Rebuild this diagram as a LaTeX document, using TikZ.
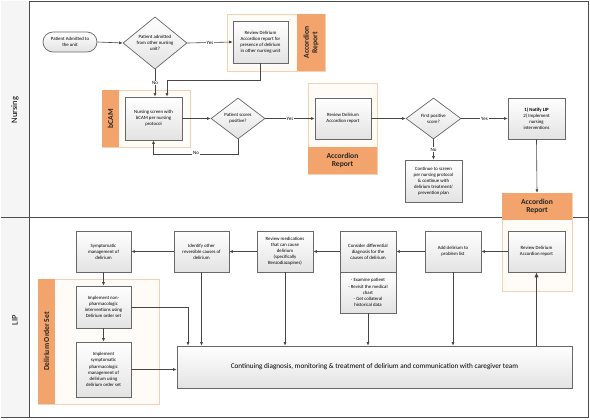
\documentclass[tikz,border=0pt]{standalone}
\usepackage{fontspec}
\setmainfont{Carlito}
\usetikzlibrary{arrows.meta,shapes.geometric}
\definecolor{accorange}{RGB}{242,164,108}
\definecolor{accline}{RGB}{246,208,176}
\definecolor{accfill}{RGB}{255,251,246}
\definecolor{boxline}{RGB}{104,104,104}
\definecolor{flowline}{RGB}{70,70,70}
\tikzset{
 procbox/.style={rectangle,draw=boxline,line width=0.7pt,top color=white,bottom color=gray!22,align=center,inner sep=1pt,font=\fontsize{4.8}{6.1}\selectfont},
 decbox/.style={diamond,draw=boxline,line width=0.7pt,top color=white,bottom color=gray!22,align=center,inner sep=0pt,font=\fontsize{4.8}{6.1}\selectfont},
 flow/.style={draw=flowline,line width=0.6pt,-{Latex[length=3.5pt,width=3pt]}},
 answer/.style={fill=white,inner sep=0.8pt,font=\fontsize{5}{6}\selectfont},
 tabnode/.style={fill=accorange,inner sep=0pt,align=center,font=\fontsize{7.6}{8.6}\selectfont\bfseries,text=black!85},
 frameset/.style={draw=accline,fill=accfill,line width=0.6pt},
 lanetext/.style={font=\fontsize{8.5}{9}\selectfont,rotate=90},
}
\begin{document}
\begin{tikzpicture}[x=1pt,y=-1pt]
\pgfmathsetmacro{\bw}{56}
\pgfmathsetmacro{\bh}{41}
\useasboundingbox (0,0) rectangle (590,420);
\draw[gray!60!black,line width=0.8pt,fill=white] (1,1) rectangle (588,417);
\fill[gray!8] (1,1) rectangle (29,417);
\draw[gray!60!black,line width=0.8pt] (29,1)--(29,417) (1,217)--(588,217);
\node[lanetext] (nursing) at (15,110) {Nursing};
\node[lanetext] (lip) at (15,320) {LIP};
\draw[frameset] (227,14) rectangle (325,71);
\draw[frameset] (102,90) rectangle (190,147);
\draw[frameset] (308,83) rectangle (377,174);
\draw[frameset] (502,193) rectangle (572,291);
\draw[frameset] (38,279) rectangle (159,404);
\node[tabnode,rotate=90,minimum width=57pt,minimum height=28pt] (tabA) at (311,42.5) {Accordion\\Report};
\node[tabnode,rotate=90,minimum width=57pt,minimum height=17pt] (tabB) at (110.5,118.5) {bCAM};
\node[tabnode,minimum width=69pt,minimum height=27pt] (tabC) at (342.5,160.5) {Accordion\\Report};
\node[tabnode,minimum width=70pt,minimum height=27pt] (tabD) at (537,206.5) {Accordion\\Report};
\node[tabnode,rotate=90,minimum width=125pt,minimum height=17pt] (tabE) at (46.5,341.5) {Delirium Order Set};
\node[procbox,rounded corners=10pt,minimum width=54pt,minimum height=20pt] (start) at (70,42) {Patient Admitted to\\the unit};
\node[decbox,minimum width=64pt,minimum height=50pt] (dia1) at (155,43) {Patient admitted\\from other nursing\\unit?};
\node[procbox,minimum width=55pt,minimum height=42pt] (rev1) at (260.5,42) {Review Delirium\\Accordion report for\\presence of delirium\\in other nursing unit};
\node[procbox,minimum width=57pt,minimum height=43pt] (screen) at (153.5,118.5) {Nursing screen with\\bCAM per nursing\\protocol};
\node[decbox,minimum width=54pt,minimum height=41pt] (dia2) at (238,118.5) {Patient scores\\positive?};
\node[procbox,minimum width=\bw pt,minimum height=\bh pt] (rev2) at (343,118.5) {Review Delirium\\Accordion report};
\node[decbox,minimum width=55pt,minimum height=41pt] (dia3) at (433.5,118.5) {First positive\\score?};
\node[procbox,minimum width=57pt,minimum height=\bh pt] (notify) at (536.5,118.5) {\textbf{1) Notify LIP}\\2) Implement\\nursing\\interventions};
\node[procbox,minimum width=57pt,minimum height=42pt] (cont) at (433.5,181) {Continue to screen\\per nursing protocol\\\& continue with\\delirium treatment/\\prevention plan};
\node[procbox,minimum width=57pt,minimum height=\bh pt] (rev3) at (536.5,251.5) {Review Delirium\\Accordion report};
\node[procbox,minimum width=\bw pt,minimum height=\bh pt] (add) at (453,251.5) {Add delirium to\\problem list};
\node[procbox,minimum width=\bw pt,minimum height=\bh pt] (diff) at (368,251.5) {Consider differential\\diagnosis for the\\causes of delirium};
\node[procbox,minimum width=\bw pt,minimum height=\bh pt] (diffnotes) at (368,292.5) {- Examine patient\\- Revisit the medical\\chart\\- Get collateral\\historical data};
\node[procbox,minimum width=\bw pt,minimum height=\bh pt] (meds) at (285,251.5) {Review medications\\that can cause\\delirium\\(specifically\\Benzodiazapines)};
\node[procbox,minimum width=55pt,minimum height=\bh pt] (ident) at (201.5,251.5) {Identify other\\reversible causes of\\delirium};
\node[procbox,minimum width=55pt,minimum height=\bh pt] (sympt) at (103.5,251.5) {Symptomatic\\management of\\delirium};
\node[procbox,minimum width=55pt,minimum height=42pt] (nonph) at (103.5,307) {Implement non-\\pharmacologic\\interventions using\\Delirium order set};
\node[procbox,minimum width=55pt,minimum height=55pt] (pharm) at (103.5,369.5) {Implement\\symptomatic\\pharmacologic\\management of\\delirium using\\delirium order set};
\node[procbox,minimum width=395pt,minimum height=42pt,font=\fontsize{7.2}{8}\selectfont] (big) at (374.5,367) {Continuing diagnosis, monitoring \& treatment of delirium and communication with caregiver team};
\coordinate (bendA) at (167,80);
\coordinate (bendB) at (188,0);
\draw[flow] (start.east) -- (dia1.west);
\draw[flow] (dia1.east) -- node[answer] (yes1) {Yes} (rev1.west);
\draw[flow] (dia1.south) -- node[answer] (no1) {No} (dia1.south |- screen.north);
\draw[flow] (rev1.south) |- (bendA) -- (bendA |- screen.north);
\draw[flow] (screen.east) -- (dia2.west);
\draw[flow] (dia2.south) -- ++(0,14.5) -| (screen.south);
\node[answer] (no2) at (196,153) {No};
\draw[flow] (dia2.east) -- node[answer] (yes2) {Yes} (rev2.west);
\draw[flow] (rev2.east) -- (dia3.west);
\draw[flow] (dia3.east) -- node[answer] (yes3) {Yes} (notify.west);
\draw[flow] (dia3.south) -- node[answer] (no3) {No} (cont.north);
\draw[flow] (notify.south) -- (tabD.north);
\draw[flow] (rev3.west) -- (add.east);
\draw[flow] (add.west) -- (diff.east);
\draw[flow] (diff.west) -- (meds.east);
\draw[flow] (meds.west) -- (ident.east);
\draw[flow] (ident.west) -- (sympt.east);
\draw[flow] (sympt.south) -- (nonph.north);
\draw[flow] (nonph.south) -- (pharm.north);
\foreach \src in {ident,meds,diffnotes,add}{\draw[flow] (\src.south) -- (\src.south |- big.north);}
\draw[flow] (nonph.east) -| (bendB |- big.north);
\draw[flow] (pharm.east) -- (pharm.east -| big.west);
\draw[flow,line width=1.4pt,-{Latex[length=5pt,width=4.5pt]}] (rev3.south |- big.north) -- (rev3.south);
\end{tikzpicture}
\end{document}
